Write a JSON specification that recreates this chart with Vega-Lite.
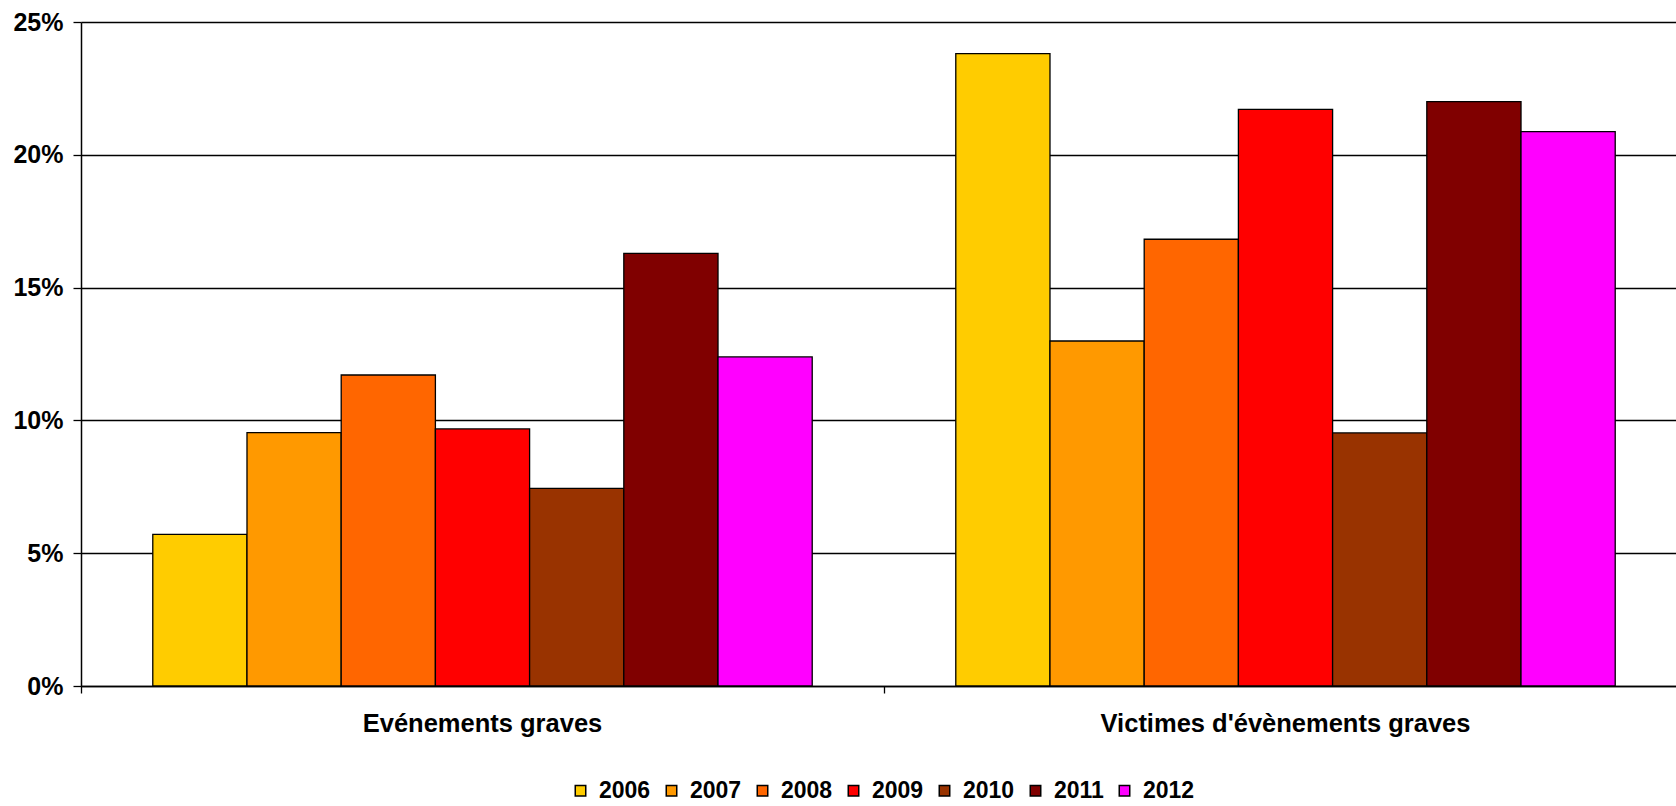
{
  "$schema": "https://vega.github.io/schema/vega-lite/v6.json",
  "autosize": {"type": "none"},
  "width": 1606,
  "height": 664,
  "padding": {"left": 81, "top": 22, "right": -11, "bottom": 120},
  "background": "white",
  "config": {
    "view": {"stroke": null},
    "font": "Liberation Sans",
    "axis": {"labelFont": "Liberation Sans", "labelFontWeight": "bold", "labelColor": "black"},
    "legend": {"labelFont": "Liberation Sans", "labelFontWeight": "bold", "labelColor": "black"}
  },
  "data": {
    "values": [
      {"categorie": "Evénements graves", "annee": "2006", "pct": 5.71},
      {"categorie": "Evénements graves", "annee": "2007", "pct": 9.54},
      {"categorie": "Evénements graves", "annee": "2008", "pct": 11.71},
      {"categorie": "Evénements graves", "annee": "2009", "pct": 9.68},
      {"categorie": "Evénements graves", "annee": "2010", "pct": 7.44},
      {"categorie": "Evénements graves", "annee": "2011", "pct": 16.29},
      {"categorie": "Evénements graves", "annee": "2012", "pct": 12.39},
      {"categorie": "Victimes d'évènements graves", "annee": "2006", "pct": 23.81},
      {"categorie": "Victimes d'évènements graves", "annee": "2007", "pct": 12.99},
      {"categorie": "Victimes d'évènements graves", "annee": "2008", "pct": 16.82},
      {"categorie": "Victimes d'évènements graves", "annee": "2009", "pct": 21.71},
      {"categorie": "Victimes d'évènements graves", "annee": "2010", "pct": 9.53},
      {"categorie": "Victimes d'évènements graves", "annee": "2011", "pct": 22.0},
      {"categorie": "Victimes d'évènements graves", "annee": "2012", "pct": 20.87}
    ]
  },
  "mark": {"type": "bar", "stroke": "black", "strokeWidth": 1.3},
  "encoding": {
    "x": {
      "field": "categorie",
      "type": "nominal",
      "sort": null,
      "title": null,
      "scale": {"paddingInner": 0, "paddingOuter": 0},
      "axis": {
        "labelAngle": 0,
        "labelFontSize": 25.5,
        "labelLimit": 0,
        "labelBaseline": "alphabetic",
        "labelPadding": 38,
        "bandPosition": 0,
        "tickSize": 7,
        "tickColor": "black",
        "tickWidth": 1.3,
        "domainColor": "black",
        "domainWidth": 1.5,
        "grid": false
      }
    },
    "xOffset": {"field": "annee", "type": "nominal", "scale": {"paddingInner": 0, "paddingOuter": 0.762}},
    "y": {
      "field": "pct",
      "type": "quantitative",
      "title": null,
      "scale": {"domain": [0, 25], "nice": false},
      "axis": {
        "values": [0, 5, 10, 15, 20, 25],
        "labelExpr": "datum.value + '%'",
        "labelFontSize": 25,
        "labelPadding": 10,
        "tickSize": 8,
        "tickColor": "black",
        "tickWidth": 1.3,
        "domainColor": "black",
        "domainWidth": 1.5,
        "grid": true,
        "gridColor": "black",
        "gridWidth": 1.4,
        "gridOpacity": 1
      }
    },
    "fill": {
      "field": "annee",
      "type": "nominal",
      "title": null,
      "scale": {
        "domain": ["2006", "2007", "2008", "2009", "2010", "2011", "2012"],
        "range": ["#FFCC00", "#FF9900", "#FF6600", "#FF0000", "#993300", "#800000", "#FF00FF"]
      },
      "legend": {
        "orient": "none",
        "direction": "horizontal",
        "legendX": 488,
        "legendY": 757,
        "symbolType": "square",
        "symbolSize": 110,
        "symbolStrokeColor": "black",
        "symbolStrokeWidth": 1.5,
        "labelFontSize": 23,
        "labelOffset": 7,
        "columnPadding": 9
      }
    }
  }
}
